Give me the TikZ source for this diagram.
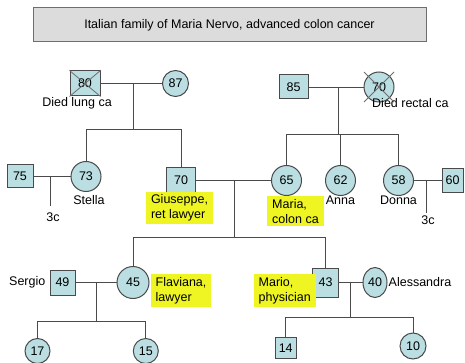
\documentclass[tikz,border=0pt]{standalone}
\usepackage{fontspec}
\setmainfont{Liberation Sans}
\usetikzlibrary{positioning, shapes.geometric}

\definecolor{pedfill}{HTML}{BADEE1}
\definecolor{pedline}{HTML}{4A4A4A}
\definecolor{notefill}{HTML}{EEF522}
\definecolor{boxfill}{HTML}{DCDCDC}

\begin{document}
\begin{tikzpicture}[x=1pt, y=-1pt, font=\fontsize{12.5}{15}\selectfont,
  male/.style={rectangle, draw=pedline, fill=pedfill, line width=1pt, inner sep=0pt, minimum width=26pt, minimum height=25pt},
  female/.style={circle, draw=pedline, fill=pedfill, line width=1pt, inner sep=0pt, minimum size=30pt},
  note/.style={fill=notefill, align=left, inner xsep=5pt, inner ysep=3pt},
  tag/.style={inner sep=1pt},
  titlebox/.style={draw=pedline!80, fill=boxfill, line width=1pt, minimum width=393pt, minimum height=34pt},
  link/.style={draw=pedline, line width=0.9pt},
  cross/.style={draw=pedline!80, line width=0.8pt}]

\useasboundingbox (0,0) rectangle (465,363);

% TITLE
\node[titlebox] (title) at (229.5,25) {Italian family of Maria Nervo, advanced colon cancer};

% GENERATION I
\node[male, minimum width=30pt] (m80) at (85,83.5) {80};
\node[female, minimum size=26pt] (f87) at (175.5,83.5) {87};
\node[male, minimum width=29pt, minimum height=24pt] (m85) at (293.5,87) {85};
\node[female] (f70) at (379,87) {70};
\node[tag, below=0pt of m80, xshift=-8pt] (dlung) {Died lung ca};
\node[tag, anchor=north west] (drect) at (371,97.5) {Died rectal ca};

% GENERATION II
\node[male, minimum height=23pt] (m75) at (20,176.5) {75};
\node[female] (f73) at (86,176.5) {73};
\node[male, minimum width=29pt] (m70) at (181,180.5) {70};
\path foreach \n/\x in {65/286.5, 62/340.5, 58/398.5} {
  (\x,180.5) node[female] (f\n) {\n}
};
\node[male, minimum width=21pt, minimum height=24pt] (m60) at (452.5,180.5) {60};
\node[tag, below=2pt of f73, xshift=3pt] (stella) {Stella};
\node[tag, below=-1pt of f62] (anna) {Anna};
\node[tag, below=-1pt of f58] (donna) {Donna};
\node[note, below=-2pt of m70, xshift=-1.5pt] (giu) {Giuseppe,\\ret lawyer};
\node[note, below=0pt of f65, xshift=9pt] (mar) {Maria,\\colon ca};
% childless couples, 3 children not shown
\coordinate (c1) at (50,176.5);
\coordinate (e1) at (50,206);
\node[tag] (n3a) at (53,217) {3c};
\coordinate (c2) at (426.5,180.5);
\coordinate (e2) at (426.5,213);
\node[tag] (n3b) at (428,220) {3c};

% GENERATION III
\node[male, minimum width=25pt] (m49) at (62.5,282.5) {49};
\node[female, minimum size=32pt] (f45) at (133,282.5) {45};
\node[male, minimum height=29pt] (m43) at (325.5,282.5) {43};
\node[female, ellipse, minimum width=24pt, minimum height=30pt] (f40) at (375,282.5) {40};
\node[tag, left=3pt of m49] (sergio) {Sergio};
\node[tag, right=0pt of f40] (aless) {Alessandra};
\node[note, right=1pt of f45, yshift=-8pt] (flav) {Flaviana,\\lawyer};
\node[note, left=-4pt of m43, yshift=-8pt] (mario) {Mario,\\physician};

% GENERATION IV
\node[female, minimum size=25pt] (f17) at (37.5,351) {17};
\node[female, minimum size=25pt] (f15) at (145.8,351) {15};
\node[male, minimum width=21pt, minimum height=21pt] (m14) at (285.7,348) {14};
\node[female, minimum size=26pt] (f10) at (413,346) {10};

% helper coordinates
\coordinate (j1) at (133.5,83.5);  \coordinate (k1) at (133.5,129);
\coordinate (j2) at (338.3,87);    \coordinate (k2) at (338.3,134);
\coordinate (j3) at (234.3,180.5); \coordinate (k3) at (234.3,237);
\coordinate (j4) at (96,282.5);    \coordinate (k4) at (96,321);
\coordinate (j5) at (350,282.5);   \coordinate (k5) at (350,317);

% EDGES
\draw[link] (m80) -- (f87);
\draw[link] (m85) -- (f70);
\draw[link] (m75) -- (f73);
\draw[link] (m70) -- (f65);
\draw[link] (f58) -- (m60);
\draw[link] (m49) -- (f45);
\draw[link] (m43) -- (f40);
\draw[link] (c1) -- (e1);
\draw[link] (c2) -- (e2);
%
\draw[link] (j1) -- (k1) (k1) -| (f73) (k1) -| (m70);
\draw[link] (j2) -- (k2);
\foreach \n in {65,62,58} {
\draw[link] (k2) -| (f\n);
}
\draw[link] (j3) -- (k3) (k3) -| (f45) (k3) -| (m43);
\draw[link] (j4) -- (k4) (k4) -| (f17) (k4) -| (f15);
\draw[link] (j5) -- (k5) (k5) -| (m14) (k5) -| (f10);

% deceased
\draw[cross] (m80.north west) -- (m80.south east) (m80.north east) -- (m80.south west);
\draw[cross] (f70.center) +(-15,-15) -- +(15,15) (f70.center) +(15,-15) -- +(-15,15);

\end{tikzpicture}
\end{document}
